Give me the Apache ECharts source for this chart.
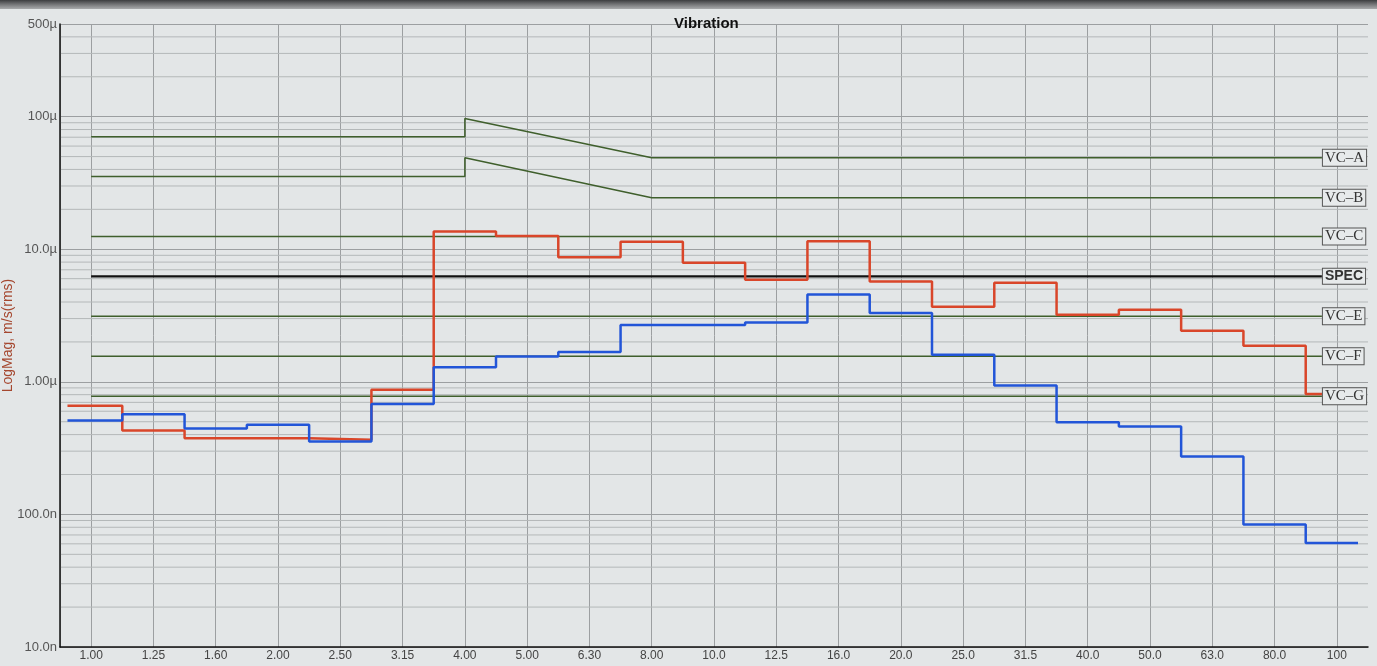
<!DOCTYPE html>
<html>
<head>
<meta charset="utf-8">
<script src="https://cdn.jsdelivr.net/npm/echarts@6/dist/echarts.min.js"></script>
<style>
html, body { margin: 0; padding: 0; background: #e3e6e7; }
#grafico { width: 1377px; height: 666px; }
</style>
</head>
<body>
<div id="grafico"></div>
<script>
// 1/3 octave band centres (Hz)
var bandLabels = ['1.00', '1.25', '1.60', '2.00', '2.50', '3.15', '4.00', '5.00', '6.30', '8.00',
    '10.0', '12.5', '16.0', '20.0', '25.0', '31.5', '40.0', '50.0', '63.0', '80.0', '100'];

// measured band levels, um/s rms
var redBand = [0.66, 0.43, 0.375, 0.375, 0.366, 0.87, 13.6, 12.6, 8.7, 11.4, 7.9,
    5.9, 11.5, 5.7, 3.68, 5.6, 3.2, 3.5, 2.43, 1.87, 0.81];
var blueBand = [0.51, 0.57, 0.445, 0.475, 0.355, 0.68, 1.29, 1.55, 1.68, 2.68, 2.68,
    2.8, 4.56, 3.3, 1.6, 0.94, 0.495, 0.46, 0.274, 0.084, 0.061];

// vibration criteria curves, um/s (knots on the band index)
var vcKnots = [0, 6, 6, 9, 19.76];
var vcAValues = [70.7, 70.7, 97, 49, 49];
var vcBValues = [35.4, 35.4, 49, 24.5, 24.5];
var flatNames = ['VC–C', 'SPEC', 'VC–E', 'VC–F', 'VC–G'];
var flatValues = [12.5, 6.25, 3.12, 1.56, 0.78];

// y axis ticks, m/s
var yTicks = [1e-8, 1e-7, 1e-6, 1e-5, 1e-4, 5e-4];
var yTickLabels = ['10.0n', '100.0n', '1.00µ', '10.0µ', '100µ', '500µ'];

var xMin = -0.5, xMax = 20.5;
var redStart = -0.38, redEnd = 19.78, blueEnd = 20.34;
var U = 1e-6;

function stepData(vals, start, end) {
    var pts = [[start, vals[0] * U]];
    for (var i = 1; i < vals.length; i++) {
        pts.push([i - 0.5, vals[i] * U]);
    }
    pts.push([end, vals[vals.length - 1] * U]);
    return pts;
}

// minor log grid lines 2..9 per decade
var minorLines = [];
for (var d = -8; d <= -4; d++) {
    for (var m = 2; m <= 9; m++) {
        var v = m * Math.pow(10, d);
        if (v < 5e-4) minorLines.push([v]);
    }
}

var dom = document.getElementById('grafico');
var myChart = echarts.init(dom);

var green = '#3f5f2c';
function vcLabel(bold) {
    return {
        show: true,
        formatter: '{a}',
        distance: 1,
        color: '#333',
        fontSize: bold ? 14 : 15,
        fontWeight: bold ? 'bold' : 'normal',
        fontFamily: bold ? 'Liberation Sans' : 'Liberation Serif',
        backgroundColor: '#e7eaeb',
        borderColor: '#555',
        borderWidth: 1,
        padding: [1, 2, 0, 2]
    };
}

var series = [];

// minor grid drawn through the axis scale
series.push({
    name: 'minor',
    type: 'custom',
    silent: true,
    z: 0,
    encode: { y: 0 },
    data: minorLines,
    renderItem: function (params, api) {
        var a = api.coord([xMin, api.value(0)]);
        var b = api.coord([xMax, api.value(0)]);
        return {
            type: 'line',
            shape: { x1: a[0], y1: a[1], x2: b[0], y2: b[1] },
            style: { stroke: '#b4b8b9', lineWidth: 1 }
        };
    }
});

[['VC–A', vcAValues], ['VC–B', vcBValues]].forEach(function (c) {
    series.push({
        name: c[0],
        type: 'line',
        showSymbol: false,
        data: vcKnots.map(function (x, i) { return [x, c[1][i] * U]; }),
        lineStyle: { color: green, width: 1.5 },
        endLabel: vcLabel(false)
    });
});

flatNames.forEach(function (n, k) {
    var spec = n === 'SPEC';
    series.push({
        name: n,
        type: 'line',
        showSymbol: false,
        data: [[0, flatValues[k] * U], [vcKnots[vcKnots.length - 1], flatValues[k] * U]],
        lineStyle: { color: spec ? '#111' : green, width: spec ? 2.2 : 1.5 },
        endLabel: vcLabel(spec)
    });
});

series.push({
    name: 'red',
    type: 'line',
    step: 'end',
    showSymbol: false,
    data: stepData(redBand, redStart, redEnd),
    lineStyle: { color: '#d9462a', width: 2.5 }
});
series.push({
    name: 'blue',
    type: 'line',
    step: 'end',
    showSymbol: false,
    data: stepData(blueBand, redStart, blueEnd),
    lineStyle: { color: '#2255d8', width: 2.5 }
});

var option = {
    backgroundColor: '#e3e6e7',
    animation: false,
    title: {
        text: 'Vibration',
        left: 669,
        top: 11,
        textStyle: { fontSize: 15, fontWeight: 'bold', color: '#111', fontFamily: 'Liberation Sans' }
    },
    graphic: [{
        type: 'rect',
        shape: { x: 0, y: 0, width: 1377, height: 9 },
        style: {
            fill: new echarts.graphic.LinearGradient(0, 0, 0, 1, [
                { offset: 0, color: '#3c3d3f' },
                { offset: 1, color: 'rgba(80,80,82,0.4)' }
            ])
        },
        silent: true
    }],
    grid: { left: 60, right: 9, top: 24, bottom: 19, containLabel: false, outerBoundsMode: 'none' },
    xAxis: {
        type: 'value',
        min: xMin,
        max: xMax,
        splitNumber: 21,
        minInterval: 1,
        maxInterval: 1,
        axisLine: { onZero: false, lineStyle: { color: '#111', width: 1.5 } },
        axisTick: { show: false },
        axisLabel: {
            margin: 3,
            fontSize: 12,
            color: '#444',
            fontFamily: 'Liberation Sans',
            formatter: function (v) {
                return Number.isInteger(v) && bandLabels[v] ? bandLabels[v] : '';
            }
        },
        splitLine: { show: true, showMaxLine: false, lineStyle: { color: '#9c9fa1', width: 1 } }
    },
    yAxis: {
        type: 'log',
        logBase: 10,
        min: yTicks[0],
        max: yTicks[yTicks.length - 1],
        name: 'LogMag, m/s(rms)',
        nameLocation: 'middle',
        nameGap: 45,
        nameMoveOverlap: false,
        nameTextStyle: { color: '#a5472f', fontSize: 14, fontFamily: 'Liberation Sans' },
        axisLine: { show: true, onZero: false, lineStyle: { color: '#111', width: 1.5 } },
        axisTick: { show: false },
        axisLabel: {
            margin: 3,
            fontSize: 13,
            color: '#555',
            fontFamily: 'Liberation Sans',
            formatter: function (v) {
                var lv = Math.log10(v), best = 0;
                for (var i = 1; i < yTicks.length; i++) {
                    if (Math.abs(Math.log10(yTicks[i]) - lv) < Math.abs(Math.log10(yTicks[best]) - lv)) best = i;
                }
                return yTickLabels[best];
            }
        },
        splitLine: { show: true, lineStyle: { color: '#9c9fa1', width: 1 } }
    },
    series: series
};

if (option && typeof option === 'object') {
    myChart.setOption(option, true);
}
</script>
</body>
</html>
